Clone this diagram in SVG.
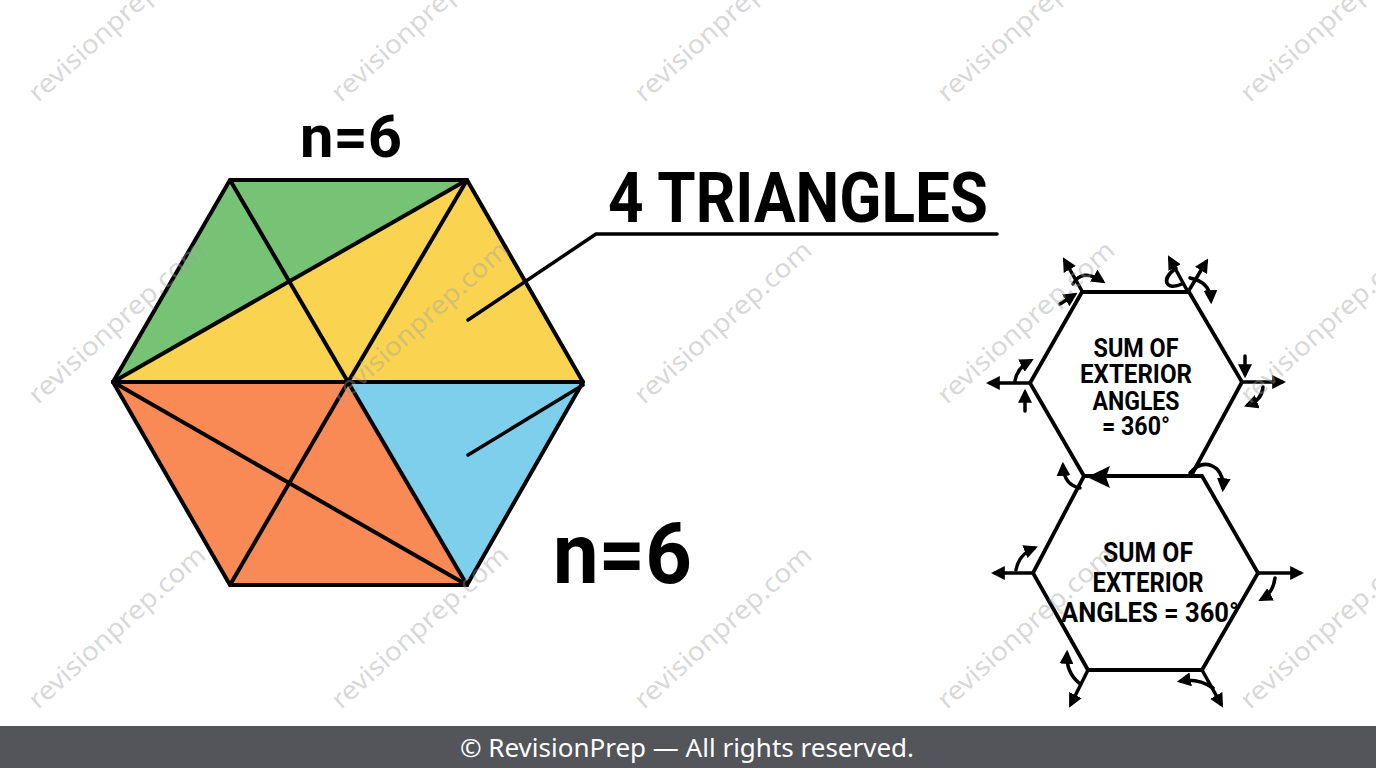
<svg xmlns="http://www.w3.org/2000/svg" width="1376" height="768" viewBox="0 0 1376 768">
<defs>
<marker id="ah" viewBox="0 0 10 10" refX="7" refY="5" markerWidth="14" markerHeight="14" markerUnits="userSpaceOnUse" orient="auto">
<path d="M0,0 L10,5 L0,10 z" fill="#000"/>
</marker>
</defs>
<style>
.edge{stroke:#000;stroke-width:4;stroke-linejoin:round;stroke-linecap:round;fill:none}
.sedge{stroke:#000;stroke-width:3.8;stroke-linejoin:miter;stroke-linecap:round;fill:none}
.ptr{stroke:#000;stroke-width:3.5;stroke-linecap:round;stroke-linejoin:round;fill:none}
.ar{stroke:#000;stroke-width:3.5;fill:none;stroke-linecap:round;marker-end:url(#ah)}
.lbl{font-family:Roboto,"Liberation Sans",sans-serif;font-weight:700;fill:#000}
.hx{font-family:Roboto,"Liberation Sans",sans-serif;font-weight:700;fill:#000;text-anchor:middle}
.wm{font-family:"Noto Sans","DejaVu Sans",sans-serif;font-size:26px;fill:#a0a0a0;fill-opacity:0.42}
</style>
<rect width="1376" height="768" fill="#ffffff"/>

<g id="big-hexagon">
<polygon points="230,180 467,180 113,382" fill="#76C375"/>
<polygon points="467,180 583,382 113,382" fill="#FAD450"/>
<polygon points="113,382 348,382 467,585 230,585" fill="#FA8A55"/>
<polygon points="348,382 583,382 467,585" fill="#7ECFEB"/>
<polygon class="edge" points="230,180 467,180 583,382 467,585 230,585 113,382"/>
<line class="edge" x1="230" y1="180" x2="348" y2="382"/>
<line class="edge" x1="467" y1="180" x2="113" y2="382"/>
<line class="edge" x1="467" y1="180" x2="348" y2="382"/>
<line class="edge" x1="113" y1="382" x2="583" y2="382"/>
<line class="edge" x1="348" y1="382" x2="467" y2="585"/>
<line class="edge" x1="348" y1="382" x2="230" y2="585"/>
<line class="edge" x1="113" y1="382" x2="467" y2="585"/>
</g>

<g id="label-n6-top">
<text class="lbl" x="300" y="157" font-size="60" textLength="102" lengthAdjust="spacingAndGlyphs">n=6</text>
</g>
<g id="label-4-triangles">
<text class="lbl" x="608" y="222" font-size="70" textLength="380" lengthAdjust="spacingAndGlyphs">4 TRIANGLES</text>
</g>
<g id="label-n6-bottom">
<text class="lbl" x="553" y="583" font-size="86" textLength="139" lengthAdjust="spacingAndGlyphs">n=6</text>
</g>

<g id="hex-upper">
<polygon class="sedge" points="1082,292 1189,292 1242,382 1191,476 1084,476 1030,383"/>
<text class="hx" x="1136" y="357" font-size="25.5" textLength="85" lengthAdjust="spacingAndGlyphs">SUM OF</text>
<text class="hx" x="1136" y="383" font-size="25.5" textLength="112" lengthAdjust="spacingAndGlyphs">EXTERIOR</text>
<text class="hx" x="1136" y="410" font-size="25.5" textLength="87" lengthAdjust="spacingAndGlyphs">ANGLES</text>
<text class="hx" x="1136" y="435" font-size="25.5" textLength="68" lengthAdjust="spacingAndGlyphs">= 360°</text>
</g>

<g id="hex-lower">
<polygon class="sedge" points="1084,476 1202,476 1258,573 1202,670 1088,670 1033,573"/>
<text class="hx" x="1148" y="562" font-size="27" textLength="90" lengthAdjust="spacingAndGlyphs">SUM OF</text>
<text class="hx" x="1148" y="592" font-size="27" textLength="111" lengthAdjust="spacingAndGlyphs">EXTERIOR</text>
<text class="hx" x="1150" y="622" font-size="27" textLength="178" lengthAdjust="spacingAndGlyphs">ANGLES = 360°</text>
</g>

<g id="connectors">
<polyline class="ptr" points="468,320 596,234 997,234"/>
<line class="ptr" x1="468" y1="455" x2="583" y2="385"/>

<line class="ar" x1="1082" y1="291" x2="1065" y2="261"/>
<path class="ar" d="M1073,284 Q1082,268 1102,281"/>
<line class="ar" x1="1060" y1="304" x2="1074" y2="295"/>

<line class="ar" x1="1188" y1="292" x2="1170" y2="259"/>
<line class="ar" x1="1188" y1="292" x2="1206" y2="262"/>
<path class="ptr" style="stroke-width:3.5" d="M1176,268 C1160,280 1166,291 1182,284"/>
<path class="ar" d="M1190,278 Q1210,282 1211,300"/>

<line class="ar" x1="1245" y1="356" x2="1245" y2="374"/>
<line class="ar" x1="1242" y1="382" x2="1282" y2="382"/>
<path class="ar" d="M1263,387 Q1262,400 1248,405"/>

<line class="ar" x1="1030" y1="383" x2="990" y2="383"/>
<path class="ar" d="M1015,381 Q1017,368 1030,361"/>
<line class="ar" x1="1025" y1="411" x2="1025" y2="393"/>

<path class="ar" d="M1190,473 Q1203,458 1217,469 Q1224,477 1223,488"/>
<path class="ar" d="M1080,488 Q1064,485 1063,466"/>
<polygon points="1087,477 1110,466 1106,477 1110,488" fill="#000"/>

<line class="ar" x1="1033" y1="573" x2="995" y2="573"/>
<path class="ar" d="M1016,570 Q1019,554 1034,548"/>
<line class="ar" x1="1258" y1="573" x2="1300" y2="573"/>
<path class="ar" d="M1275,578 Q1273,593 1262,599"/>
<line class="ar" x1="1088" y1="670" x2="1071" y2="704"/>
<path class="ar" d="M1079,683 Q1066,672 1067,654"/>
<line class="ar" x1="1202" y1="670" x2="1221" y2="704"/>
<path class="ar" d="M1213,688 Q1198,678 1181,681"/>
</g>

<g id="watermarks">
<text class="wm" transform="translate(38,103) rotate(-42)" textLength="228" lengthAdjust="spacingAndGlyphs">revisionprep.com</text>
<text class="wm" transform="translate(341,103) rotate(-42)" textLength="228" lengthAdjust="spacingAndGlyphs">revisionprep.com</text>
<text class="wm" transform="translate(644,103) rotate(-42)" textLength="228" lengthAdjust="spacingAndGlyphs">revisionprep.com</text>
<text class="wm" transform="translate(947,103) rotate(-42)" textLength="228" lengthAdjust="spacingAndGlyphs">revisionprep.com</text>
<text class="wm" transform="translate(1250,103) rotate(-42)" textLength="228" lengthAdjust="spacingAndGlyphs">revisionprep.com</text>
<text class="wm" transform="translate(38,405) rotate(-42)" textLength="228" lengthAdjust="spacingAndGlyphs">revisionprep.com</text>
<text class="wm" transform="translate(341,405) rotate(-42)" textLength="228" lengthAdjust="spacingAndGlyphs">revisionprep.com</text>
<text class="wm" transform="translate(644,405) rotate(-42)" textLength="228" lengthAdjust="spacingAndGlyphs">revisionprep.com</text>
<text class="wm" transform="translate(947,405) rotate(-42)" textLength="228" lengthAdjust="spacingAndGlyphs">revisionprep.com</text>
<text class="wm" transform="translate(1250,405) rotate(-42)" textLength="228" lengthAdjust="spacingAndGlyphs">revisionprep.com</text>
<text class="wm" transform="translate(38,710) rotate(-42)" textLength="228" lengthAdjust="spacingAndGlyphs">revisionprep.com</text>
<text class="wm" transform="translate(341,710) rotate(-42)" textLength="228" lengthAdjust="spacingAndGlyphs">revisionprep.com</text>
<text class="wm" transform="translate(644,710) rotate(-42)" textLength="228" lengthAdjust="spacingAndGlyphs">revisionprep.com</text>
<text class="wm" transform="translate(947,710) rotate(-42)" textLength="228" lengthAdjust="spacingAndGlyphs">revisionprep.com</text>
<text class="wm" transform="translate(1250,710) rotate(-42)" textLength="228" lengthAdjust="spacingAndGlyphs">revisionprep.com</text>
</g>

<g id="footer">
<rect x="0" y="726" width="1376" height="42" fill="#54555A"/>
<text x="687" y="757" font-family="'Noto Sans','DejaVu Sans',sans-serif" font-size="26" fill="#ffffff" text-anchor="middle">© RevisionPrep — All rights reserved.</text>
</g>
</svg>
